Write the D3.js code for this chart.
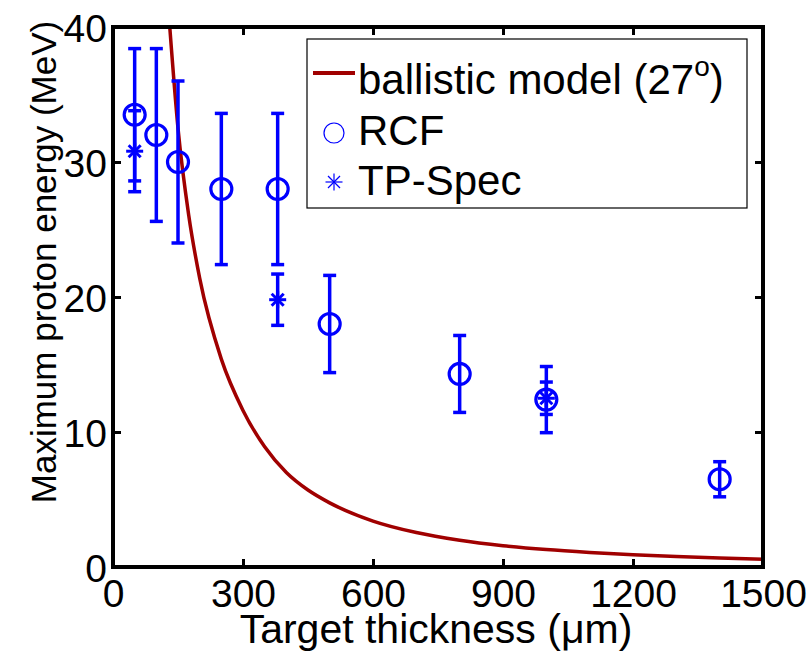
<!DOCTYPE html>
<html>
<head>
<meta charset="utf-8">
<script src="https://cdn.jsdelivr.net/npm/d3@7"></script>
<style>
  body { margin: 0; background: #fff; }
  text { font-family: "Liberation Sans", Arial, sans-serif; fill: #000; }
</style>
</head>
<body>
<div id="chart"></div>
<script>
// RCF measurements (thickness in um, energy in MeV, symmetric error)
const rcfThickness = [50, 100, 150, 250, 380, 500, 800, 1000, 1400];
const rcfEnergy = [33.5, 32, 30, 28, 28, 18, 14.3, 12.4, 6.5];
const rcfError = [4.9, 6.4, 6, 5.6, 5.6, 3.6, 2.85, 2.45, 1.3];

// Thomson parabola spectrometer measurements
const tpThickness = [50, 380, 1000];
const tpEnergy = [30.8, 19.8, 12.5];
const tpError = [3.0, 1.9, 1.2];

// ballistic model curve
const modelThickness = [131, 150, 175, 200, 250, 300, 350, 400, 450, 500, 600, 700, 800, 900, 1000, 1100, 1200, 1300, 1400, 1500];
const modelEnergy = [40, 32.5, 26.0, 21.4, 15.4, 11.6, 8.9, 7.0, 5.7, 4.75, 3.4, 2.55, 1.98, 1.58, 1.29, 1.08, 0.91, 0.78, 0.67, 0.58];

const xTicks = [0, 300, 600, 900, 1200, 1500];
const yTicks = [0, 10, 20, 30, 40];

const legendLabels = ['ballistic model (27', 'RCF', 'TP-Spec'];

const width = 812, height = 656;
const margin = { top: 27, right: 49, bottom: 89, left: 113 };
const w = width - margin.left - margin.right;
const h = height - margin.top - margin.bottom;

const blue = '#0000ff';
const darkRed = '#a00000';

const svg = d3.select('#chart').append('svg')
  .attr('width', width)
  .attr('height', height);

const g = svg.append('g')
  .attr('transform', `translate(${margin.left}, ${margin.top})`);

// scales
const x = d3.scaleLinear().domain([0, 1500]).range([0, w]);
const y = d3.scaleLinear().domain([0, 40]).range([h, 0]);

g.append('clipPath').attr('id', 'clip')
  .append('rect').attr('width', w).attr('height', h);

// model curve
const line = d3.line()
  .x((d, i) => x(modelThickness[i]))
  .y(d => y(d))
  .curve(d3.curveMonotoneX);

g.append('path')
  .datum(modelEnergy)
  .attr('clip-path', 'url(#clip)')
  .attr('d', line)
  .attr('fill', 'none')
  .attr('stroke', darkRed)
  .attr('stroke-width', 3.5);

// error bars helper
function errorBars(xs, ys, errs, cap) {
  const eb = g.append('g')
    .attr('stroke', blue)
    .attr('stroke-width', 3.5)
    .attr('fill', 'none');
  xs.forEach((xv, i) => {
    const cx = x(xv);
    const top = y(ys[i] + errs[i]);
    const bot = y(ys[i] - errs[i]);
    eb.append('line').attr('x1', cx).attr('x2', cx).attr('y1', top).attr('y2', bot);
    eb.append('line').attr('x1', cx - cap).attr('x2', cx + cap).attr('y1', top).attr('y2', top);
    eb.append('line').attr('x1', cx - cap).attr('x2', cx + cap).attr('y1', bot).attr('y2', bot);
  });
}

function star(sel, cx, cy, r, sw) {
  const s = sel.append('g')
    .attr('transform', `translate(${cx}, ${cy})`)
    .attr('stroke', blue)
    .attr('stroke-width', sw);
  const d = r * Math.SQRT1_2;
  s.append('line').attr('x1', -r).attr('x2', r).attr('y1', 0).attr('y2', 0);
  s.append('line').attr('x1', 0).attr('x2', 0).attr('y1', -r).attr('y2', r);
  s.append('line').attr('x1', -d).attr('x2', d).attr('y1', -d).attr('y2', d);
  s.append('line').attr('x1', -d).attr('x2', d).attr('y1', d).attr('y2', -d);
}

// RCF
errorBars(rcfThickness, rcfEnergy, rcfError, 6.5);
g.append('g').selectAll('circle')
  .data(rcfEnergy)
  .join('circle')
    .attr('cx', (d, i) => x(rcfThickness[i]))
    .attr('cy', d => y(d))
    .attr('r', 10.5)
    .attr('fill', 'none')
    .attr('stroke', blue)
    .attr('stroke-width', 3.2);

// TP-Spec
errorBars(tpThickness, tpEnergy, tpError, 6.5);
tpEnergy.forEach((d, i) => star(g, x(tpThickness[i]), y(d), 8.5, 3));

// axes (box with inward ticks on all sides)
const tickLen = 8;
const axisFont = 39;

const xAxis = d3.axisBottom(x).tickValues(xTicks).tickFormat(d3.format('d'))
  .tickSizeInner(-tickLen).tickSizeOuter(0).tickPadding(12);
const yAxis = d3.axisLeft(y).tickValues(yTicks).tickFormat(d3.format('d'))
  .tickSizeInner(-tickLen).tickSizeOuter(0).tickPadding(6);

const gx = g.append('g').attr('transform', `translate(0, ${h})`).call(xAxis);
const gy = g.append('g').call(yAxis);
g.append('g').call(d3.axisTop(x).tickValues(xTicks).tickSizeInner(-tickLen).tickSizeOuter(0).tickFormat(''));
g.append('g').attr('transform', `translate(${w}, 0)`)
  .call(d3.axisRight(y).tickValues(yTicks).tickSizeInner(-tickLen).tickSizeOuter(0).tickFormat(''));

g.selectAll('.domain').remove();
g.selectAll('.tick line').attr('stroke', '#000').attr('stroke-width', 3);
g.selectAll('.tick text')
  .style('font-family', '"Liberation Sans", Arial, sans-serif')
  .style('font-size', axisFont + 'px')
  .attr('fill', '#000');
gx.selectAll('.tick text').attr('dy', '0.71em');
gy.selectAll('.tick text').attr('dy', '0.36em');

g.append('rect')
  .attr('width', w).attr('height', h)
  .attr('fill', 'none')
  .attr('stroke', '#000')
  .attr('stroke-width', 4);

// axis labels
svg.append('text')
  .attr('x', 436)
  .attr('y', 643)
  .attr('text-anchor', 'middle')
  .style('font-size', '41px')
  .text('Target thickness (\u03bcm)');

svg.append('text')
  .attr('transform', 'translate(56, 262) rotate(-90)')
  .attr('text-anchor', 'middle')
  .style('font-size', '35px')
  .text('Maximum proton energy (MeV)');

// legend
const lg = svg.append('g').attr('transform', 'translate(307, 39)');
lg.append('rect')
  .attr('width', 440).attr('height', 169)
  .attr('fill', '#fff')
  .attr('stroke', '#000')
  .attr('stroke-width', 1.2);

const rowY = [55, 106, 156];
const textX = 51;

lg.append('line')
  .attr('x1', 6).attr('x2', 48)
  .attr('y1', rowY[0] - 21).attr('y2', rowY[0] - 21)
  .attr('stroke', darkRed).attr('stroke-width', 4);
lg.append('circle')
  .attr('cx', 27).attr('cy', rowY[1] - 12).attr('r', 10)
  .attr('fill', 'none').attr('stroke', blue).attr('stroke-width', 1.2);
star(lg, 27, rowY[2] - 13, 8.5, 1.2);

const t0 = lg.append('text').attr('x', textX).attr('y', rowY[0]).style('font-size', '42px');
t0.append('tspan').text(legendLabels[0]);
t0.append('tspan').attr('dy', -18).style('font-size', '28px').text('o');
t0.append('tspan').attr('dy', 18).text(')');

lg.append('text').attr('x', textX).attr('y', rowY[1]).style('font-size', '42px').text(legendLabels[1]);
lg.append('text').attr('x', textX).attr('y', rowY[2]).style('font-size', '42px').text(legendLabels[2]);
</script>
</body>
</html>
